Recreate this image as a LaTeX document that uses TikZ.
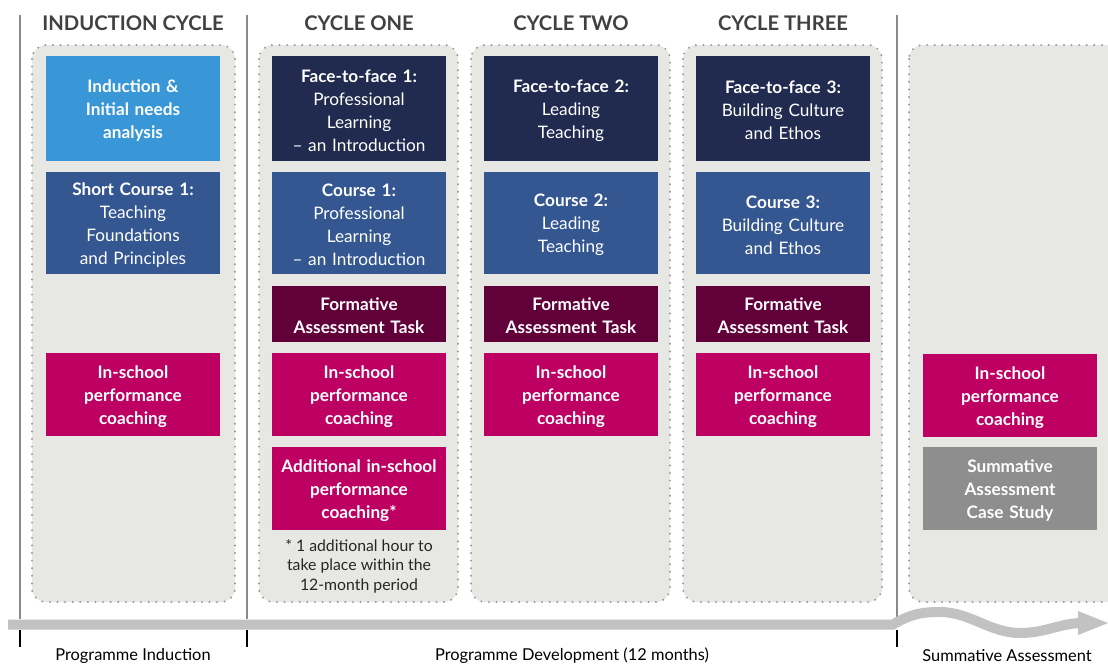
\documentclass[tikz,border=0pt]{standalone}
\usepackage{fontspec}
\setmainfont{Lato}
\usetikzlibrary{arrows.meta}
\definecolor{lblue}{HTML}{3A97D7}
\definecolor{navy}{HTML}{212A4F}
\definecolor{mblue}{HTML}{345791}
\definecolor{maroon}{HTML}{62003A}
\definecolor{magenta}{HTML}{BD0062}
\definecolor{gbox}{HTML}{8E8E8E}
\definecolor{panelfill}{HTML}{E7E7E3}
\definecolor{dotc}{HTML}{9A9A9A}
\definecolor{headc}{HTML}{414141}
\definecolor{axisc}{HTML}{C2C2C2}
\definecolor{vline}{HTML}{8A8A8A}
\tikzset{
  panel/.style={fill=panelfill, draw=dotc, line width=2.2pt, line cap=round, dash pattern=on 0pt off 7.6pt, rounded corners=14pt},
  cbox/.style={minimum width=174pt, inner sep=0pt, text width=172pt, align=center, text=white, font=\fontsize{17.2}{23}\selectfont, execute at begin node={\rule{0pt}{17pt}}},
  heading/.style={text=headc, font=\fontsize{20.2}{24}\selectfont\bfseries},
  bottomlbl/.style={text=black, font=\fontsize{16.4}{19}\selectfont},
  footnote/.style={text=black!85, align=center, font=\fontsize{15.8}{19.5}\selectfont},
  sepline/.style={draw=vline, line width=1.5pt},
  tick/.style={draw=black, line width=2pt},
}
\begin{document}
\begin{tikzpicture}[x=1pt,y=-1pt]
\clip (0,0) rectangle (1108,664);
\fill[white] (0,0) rectangle (1108,664);

% separators
\draw[sepline] (20,15) -- (20,619);
\draw[sepline] (247,15) -- (247,619);
\draw[sepline] (897,15) -- (897,619);
\draw[tick] (20,630) -- (20,647);
\draw[tick] (247,630) -- (247,647);
\draw[tick] (897,630) -- (897,647);

% panels
\path[panel] (32,45) rectangle (235,602);
\path[panel] (259,45) rectangle (458,602);
\path[panel] (471,45) rectangle (670,602);
\path[panel] (683,45) rectangle (882,602);
\path[panel] (909,45) rectangle (1122,602);

% headings
\node[heading] (h0) at (133,23) {INDUCTION CYCLE};
\node[heading] (h1) at (359,23) {CYCLE ONE};
\node[heading] (h2) at (571,23) {CYCLE TWO};
\node[heading] (h3) at (783,23) {CYCLE THREE};

% induction column
\node[cbox, fill=lblue, minimum height=105pt] (i1) at (133,108.5) {\textbf{Induction \&}\\\textbf{Initial needs}\\\textbf{analysis}};
\node[cbox, fill=mblue, minimum height=102pt] (i2) at (133,223) {\textbf{Short Course 1:}\\Teaching\\Foundations\\and Principles};
\node[cbox, fill=magenta, minimum height=83pt] (i3) at (133,394.5) {\textbf{In-school}\\\textbf{performance}\\\textbf{coaching}};

% cycle one
\node[cbox, fill=navy, minimum height=105pt] (a1) at (359,108.5) {\textbf{Face-to-face 1:}\\Professional\\Learning\\– an Introduction};
\node[cbox, fill=mblue, minimum height=102pt] (a2) at (359,223) {\textbf{Course 1:}\\Professional\\Learning\\– an Introduction};
\node[cbox, fill=maroon, minimum height=56pt] (a3) at (359,314) {\textbf{Formative}\\\textbf{Assessment Task}};
\node[cbox, fill=magenta, minimum height=83pt] (a4) at (359,394.5) {\textbf{In-school}\\\textbf{performance}\\\textbf{coaching}};
\node[cbox, fill=magenta, minimum height=83pt] (a5) at (359,488.5) {\textbf{Additional in-school}\\\textbf{performance}\\\textbf{coaching*}};
\node[footnote] (fn) at (359,566) {* 1 additional hour to\\take place within the\\12-month period};

% cycle two
\node[cbox, fill=navy, minimum height=105pt] (b1) at (571,108.5) {\textbf{Face-to-face 2:}\\Leading\\Teaching};
\node[cbox, fill=mblue, minimum height=102pt] (b2) at (571,223) {\textbf{Course 2:}\\Leading\\Teaching};
\node[cbox, fill=maroon, minimum height=56pt] (b3) at (571,314) {\textbf{Formative}\\\textbf{Assessment Task}};
\node[cbox, fill=magenta, minimum height=83pt] (b4) at (571,394.5) {\textbf{In-school}\\\textbf{performance}\\\textbf{coaching}};

% cycle three
\node[cbox, fill=navy, minimum height=105pt] (c1) at (783,108.5) {\textbf{Face-to-face 3:}\\Building Culture\\and Ethos};
\node[cbox, fill=mblue, minimum height=102pt] (c2) at (783,223) {\textbf{Course 3:}\\Building Culture\\and Ethos};
\node[cbox, fill=maroon, minimum height=56pt] (c3) at (783,314) {\textbf{Formative}\\\textbf{Assessment Task}};
\node[cbox, fill=magenta, minimum height=83pt] (c4) at (783,394.5) {\textbf{In-school}\\\textbf{performance}\\\textbf{coaching}};

% summative
\node[cbox, fill=magenta, minimum height=83pt] (s1) at (1010,395.5) {\textbf{In-school}\\\textbf{performance}\\\textbf{coaching}};
\node[cbox, fill=gbox, minimum height=83pt] (s2) at (1010,488.5) {\textbf{Summative}\\\textbf{Assessment}\\\textbf{Case Study}};

% axis
\coordinate (axs) at (8,624.5);
\coordinate (axm) at (893,624.5);
\coordinate (axe) at (1108,623);
\draw[draw=axisc, line width=10pt] (axs) -- (axm)
  .. controls (912,613) and (925,612) .. (940,612)
  .. controls (970,612) and (990,633) .. (1020,633)
  .. controls (1045,633) and (1058,624) .. (1080,623);
\fill[axisc] (1078,611) -- (axe) -- (1078,635) -- cycle;

% bottom labels
\node[bottomlbl] (l0) at (133,656) {Programme Induction};
\node[bottomlbl] (l1) at (572,656) {Programme Development (12 months)};
\node[bottomlbl] (l2) at (1007,656) {Summative Assessment};
\end{tikzpicture}
\end{document}
